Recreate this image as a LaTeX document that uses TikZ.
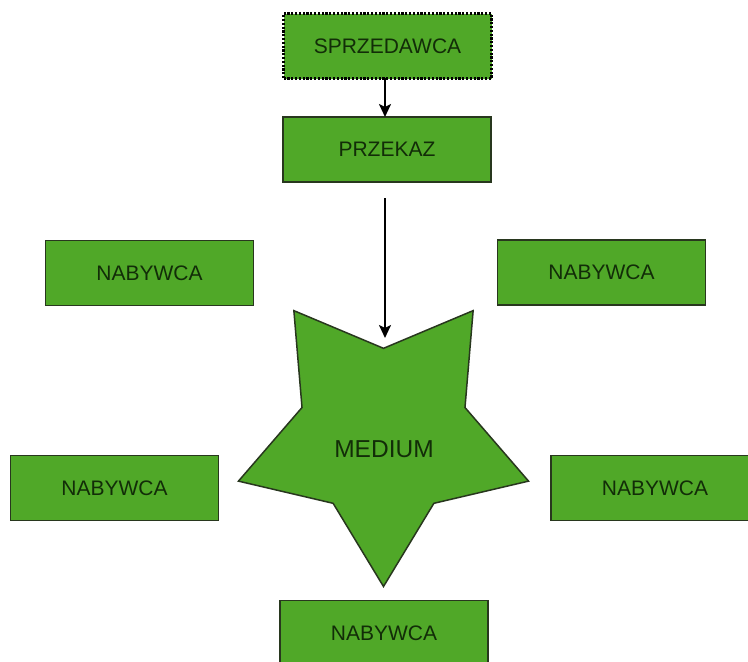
\documentclass[tikz,border=0pt]{standalone}
\usepackage{fontspec}
\setmainfont{Liberation Sans}
\usetikzlibrary{shapes.geometric,arrows.meta}
\definecolor{boxfill}{RGB}{80,168,40}
\definecolor{boxline}{RGB}{40,55,30}
\definecolor{boxtext}{RGB}{18,45,8}
\tikzset{
  greenbox/.style={draw=boxline, line width=1.5pt, fill=boxfill, text=boxtext,
    minimum width=208pt, minimum height=65pt, inner sep=0pt,
    font=\fontsize{21pt}{24pt}\selectfont},
  dottedbox/.style={greenbox, draw=black, line width=2.6pt, dash pattern=on 2.2pt off 1.6pt},
  starshape/.style={star, star points=5, star point ratio=1.78, shape border rotate=180,
    minimum size=305pt, inner sep=0pt, draw=boxline, line width=1.5pt, fill=boxfill},
  startext/.style={text=boxtext, font=\fontsize{24.5pt}{28pt}\selectfont},
  flow/.style={draw=black, line width=2.2pt, -{Stealth[length=13pt,width=12pt,inset=3pt]}}
}
\begin{document}
\begin{tikzpicture}[x=1pt,y=-1pt]
\clip (0,0) rectangle (748,662);
\fill[white] (0,0) rectangle (748,662);
\node[starshape] (star) at (383.5,434) {};
\node[startext] (medium) at (384,449) {MEDIUM};
\node[dottedbox] (sprz) at (387.5,46) {SPRZEDAWCA};
\node[greenbox] (prz) at (387,149.5) {PRZEKAZ};
\node[greenbox] (nab1) at (149.5,273) {NABYWCA};
\node[greenbox] (nab2) at (601.5,272.5) {NABYWCA};
\node[greenbox] (nab3) at (114.5,488) {NABYWCA};
\node[greenbox] (nab4) at (655,488) {NABYWCA};
\node[greenbox] (nab5) at (384,633) {NABYWCA};
\coordinate (a1s) at (385,78);
\coordinate (a1e) at (385,117);
\coordinate (a2s) at (385,198);
\coordinate (a2e) at (385,338);
\draw[flow] (a1s) -- (a1e);
\draw[flow] (a2s) -- (a2e);
\end{tikzpicture}
\end{document}
